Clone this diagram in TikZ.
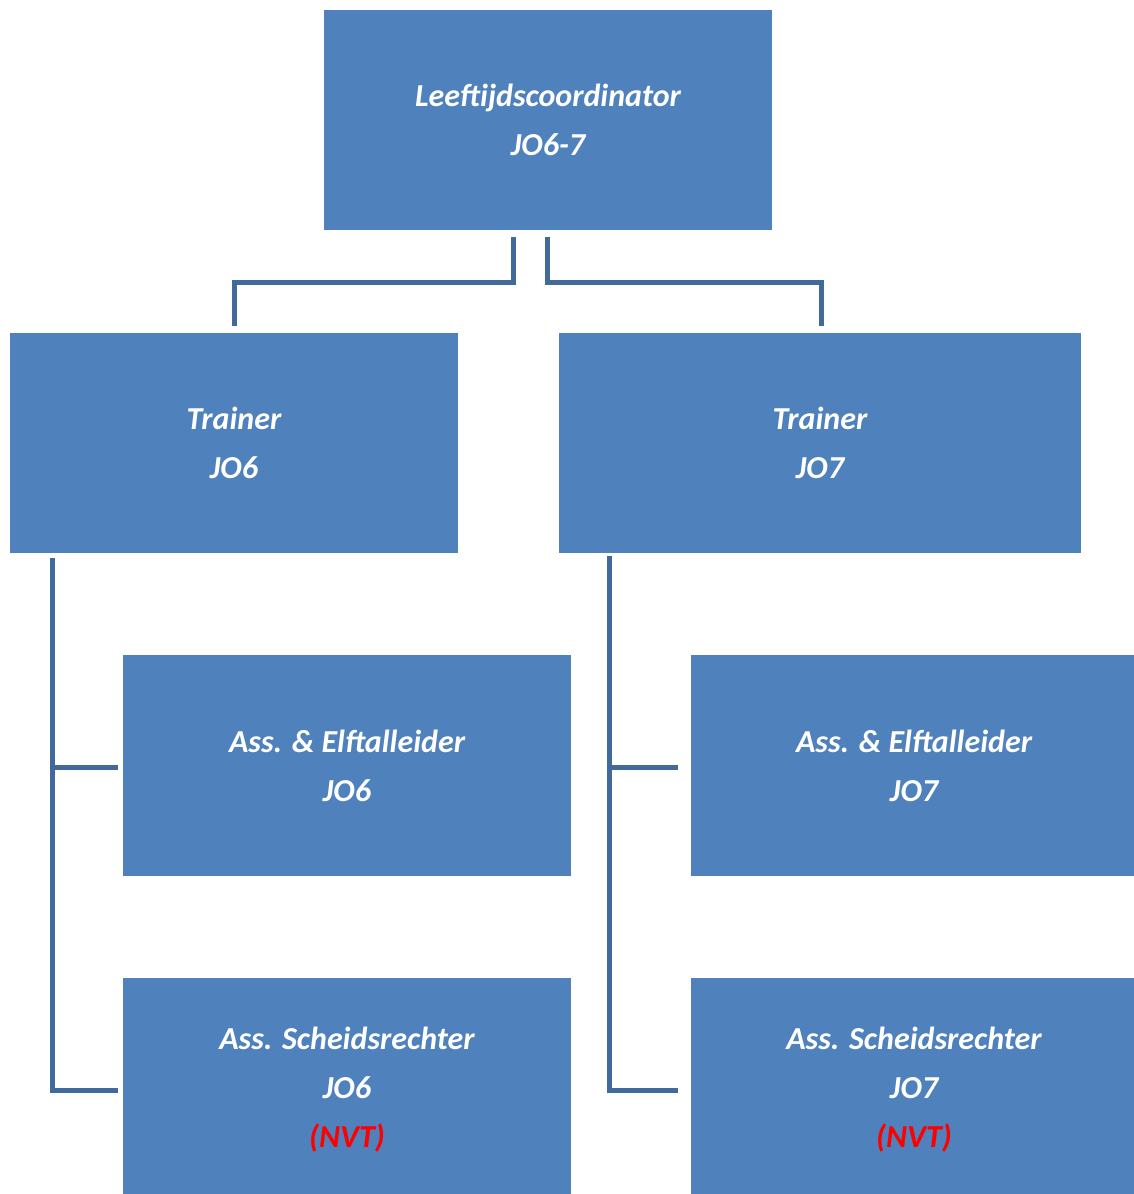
\documentclass[tikz,border=0pt]{standalone}
\usepackage{fontspec}
\setmainfont{Carlito}
\definecolor{boxblue}{HTML}{4F81BD}
\definecolor{linkblue}{HTML}{41699C}
\definecolor{nvtred}{HTML}{FF0000}
\begin{document}
\begin{tikzpicture}[x=1pt,y=-1pt,
  rolebox/.style={fill=boxblue, draw=none, inner sep=0pt, align=center,
    text=white, font=\fontsize{32}{49}\selectfont\bfseries\itshape},
  link/.style={draw=linkblue, line width=5pt, line cap=butt, line join=miter}]
\useasboundingbox (0,0) rectangle (1134,1194);

% role boxes (drawn as filled rectangles, text placed at box centres)
\fill[boxblue] (324,10) rectangle (772,230);
\fill[boxblue] (10,333) rectangle (458,553);
\fill[boxblue] (559,333) rectangle (1081,553);
\fill[boxblue] (123,655) rectangle (571,876);
\fill[boxblue] (691,655) rectangle (1134,876);
\fill[boxblue] (123,978) rectangle (571,1194);
\fill[boxblue] (691,978) rectangle (1134,1194);

\node[rolebox] (coord) at (548,120) {Leeftijdscoordinator\\JO6-7};
\node[rolebox] (tr6) at (234,443) {Trainer\\JO6};
\node[rolebox] (tr7) at (820,443) {Trainer\\JO7};
\node[rolebox] (ass6) at (347,766) {Ass. \& Elftalleider\\JO6};
\node[rolebox] (ass7) at (914,766) {Ass. \& Elftalleider\\JO7};
\node[rolebox] (sch6) at (347,1090) {Ass. Scheidsrechter\\JO6\\\textcolor{nvtred}{(NVT)}};
\node[rolebox] (sch7) at (914,1090) {Ass. Scheidsrechter\\JO7\\\textcolor{nvtred}{(NVT)}};

% connector end points
\coordinate (c6top) at (513,237);
\coordinate (c7top) at (547,237);
\coordinate (t6in) at (234,326);
\coordinate (t7in) at (821,326);
\coordinate (t6out) at (52,558);
\coordinate (t7out) at (609,556);
\coordinate (a6in) at (118,767);
\coordinate (s6in) at (118,1090);
\coordinate (a7in) at (678,767);
\coordinate (s7in) at (678,1090);

% coordinator to trainers
\draw[link] (c6top) -- (c6top |- 0,282) -| (t6in);
\draw[link] (c7top) -- (c7top |- 0,282) -| (t7in);

% trainers to assistants
\draw[link] (t6out) |- (s6in);
\draw[link] (t6out |- a6in) -- (a6in);
\draw[link] (t7out) |- (s7in);
\draw[link] (t7out |- a7in) -- (a7in);
\end{tikzpicture}
\end{document}
